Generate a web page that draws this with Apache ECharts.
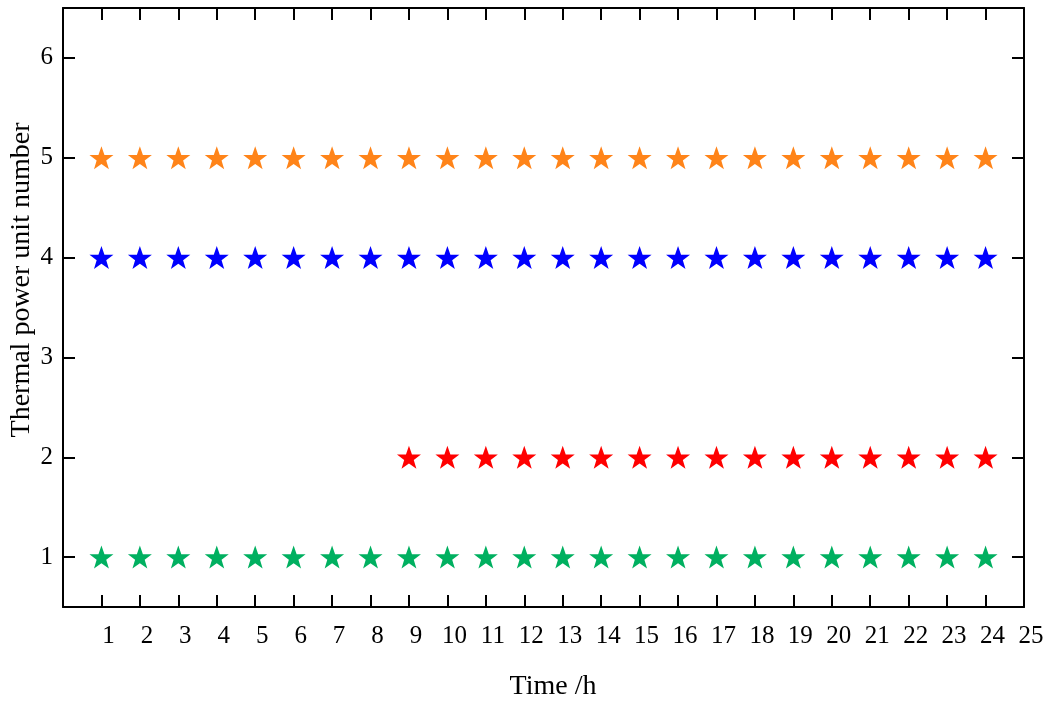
<!DOCTYPE html>
<html>
<head>
<meta charset="utf-8">
<script src="https://cdn.jsdelivr.net/npm/echarts@6/dist/echarts.min.js"></script>
<style>html,body{margin:0;padding:0;background:#fff}#c{width:1051px;height:704px}</style>
</head>
<body>
<div id="c"></div>
<script>
// Data
const hours = [1,2,3,4,5,6,7,8,9,10,11,12,13,14,15,16,17,18,19,20,21,22,23,24];
const unit5Hours = [1,2,3,4,5,6,7,8,9,10,11,12,13,14,15,16,17,18,19,20,21,22,23,24];
const unit4Hours = [1,2,3,4,5,6,7,8,9,10,11,12,13,14,15,16,17,18,19,20,21,22,23,24];
const unit2Hours = [9,10,11,12,13,14,15,16,17,18,19,20,21,22,23,24];
const unit1Hours = [1,2,3,4,5,6,7,8,9,10,11,12,13,14,15,16,17,18,19,20,21,22,23,24];
const xTickLabels = [1,2,3,4,5,6,7,8,9,10,11,12,13,14,15,16,17,18,19,20,21,22,23,24,25];
const yTickLabels = [1,2,3,4,5,6];

const star = 'path://M50,0 L62.5,36 L100,36 L70,58.5 L81,95 L50,73 L19,95 L30,58.5 L0,36 L37.5,36 Z';
const font = 'Liberation Serif';

function mk(hrs, unit, color) {
  return {
    type: 'scatter',
    data: hrs.map(h => [h, unit]),
    symbol: star,
    symbolSize: [24, 23],
    itemStyle: { color: color, opacity: 1 },
    xAxisIndex: 0, yAxisIndex: 0
  };
}

const chart = echarts.init(document.getElementById('c'));
const axisLine = { show: true, onZero: false, lineStyle: { color: '#000', width: 2 } };
const tickStyle = { color: '#000', width: 2 };
chart.setOption({
  animation: false,
  backgroundColor: '#fff',
  grid: { left: 63, right: 27, top: 8, bottom: 97 },
  xAxis: [
    {
      type: 'value', min: 0, max: 25, position: 'bottom',
      axisLine: axisLine,
      splitLine: { show: false },
      axisTick: { show: true, inside: true, length: 12, lineStyle: tickStyle, customValues: hours },
      axisLabel: { customValues: xTickLabels, align: 'center', padding: [0, 0, 0, 14], margin: 17, fontFamily: font, fontSize: 25, color: '#000' }
    },
    {
      type: 'value', min: 0, max: 25, position: 'top',
      axisLine: axisLine,
      splitLine: { show: false },
      axisTick: { show: true, inside: true, length: 12, lineStyle: tickStyle, customValues: hours },
      axisLabel: { show: false }
    }
  ],
  yAxis: [
    {
      type: 'value', min: 0.5, max: 6.5, position: 'left',
      axisLine: axisLine,
      splitLine: { show: false },
      axisTick: { show: true, inside: true, length: 12, lineStyle: tickStyle, customValues: yTickLabels },
      axisLabel: { customValues: yTickLabels, margin: 10, fontFamily: font, fontSize: 25, color: '#000' }
    },
    {
      type: 'value', min: 0.5, max: 6.5, position: 'right',
      axisLine: axisLine,
      splitLine: { show: false },
      axisTick: { show: true, inside: true, length: 12, lineStyle: tickStyle, customValues: yTickLabels },
      axisLabel: { show: false }
    }
  ],
  graphic: [
    { type: 'text', x: 553, y: 687, style: { text: 'Time /h', font: '28px "Liberation Serif"', fill: '#000', textAlign: 'center', textVerticalAlign: 'middle' } },
    { type: 'text', x: 22, y: 280, rotation: Math.PI / 2, style: { text: 'Thermal power unit number', font: '28px "Liberation Serif"', fill: '#000', textAlign: 'center', textVerticalAlign: 'middle' } }
  ],
  series: [
    mk(unit5Hours, 5, '#FF8419'),
    mk(unit4Hours, 4, '#0000FF'),
    mk(unit2Hours, 2, '#FF0000'),
    mk(unit1Hours, 1, '#00B060')
  ]
});
</script>
</body>
</html>
